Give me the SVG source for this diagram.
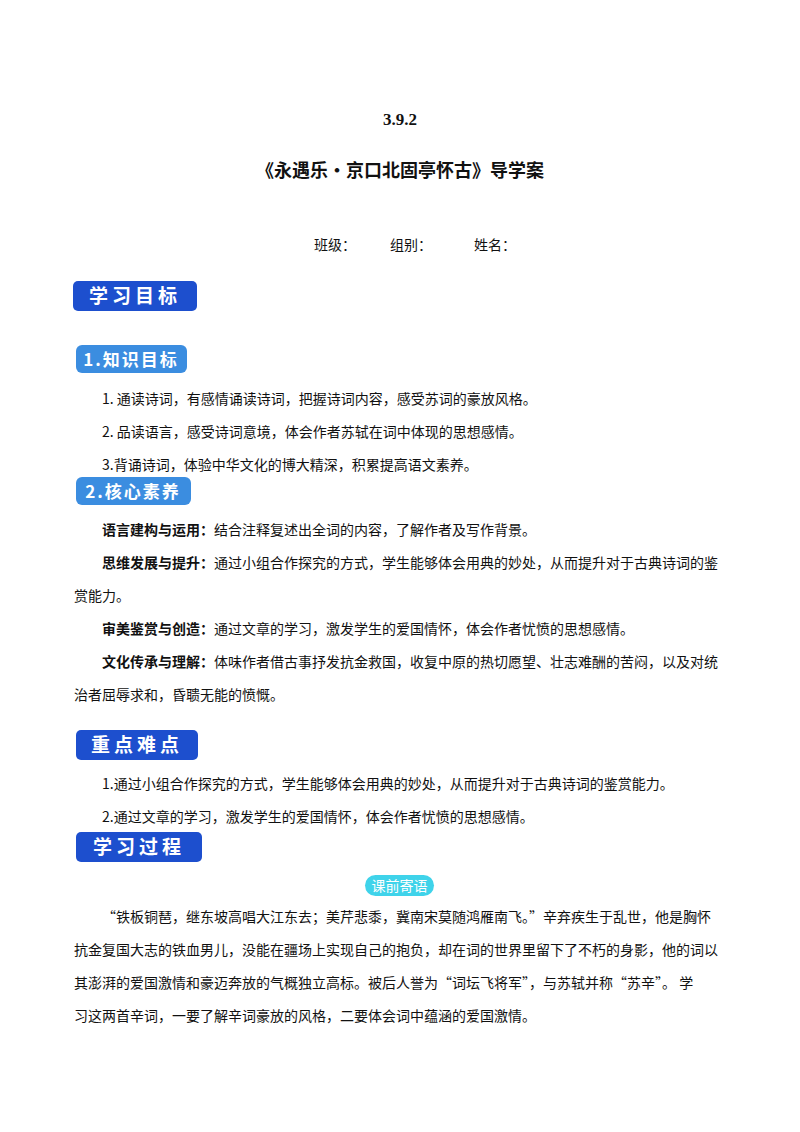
<svg xmlns="http://www.w3.org/2000/svg" width="800" height="1132" viewBox="0 0 800 1132">
<style>
text{font-family:"Noto Sans CJK SC","Liberation Serif",serif;fill:#111;font-size:14px}
.b{font-weight:bold}
.bd{fill:#fff;font-weight:bold;font-size:19px;letter-spacing:4px}
.bl{fill:#fff;font-weight:bold;font-size:17px;letter-spacing:2px}
</style>
<rect width="800" height="1132" fill="#fff"/>
<text x="400" y="125" text-anchor="middle" class="b" style="font-size:17px;font-family:'Liberation Serif',serif">3.9.2</text>
<text x="400" y="177" text-anchor="middle" class="b" style="font-size:18px">《永遇乐•京口北固亭怀古》导学案</text>
<text x="314" y="250">班级：</text><text x="390" y="250">组别：</text><text x="474" y="250">姓名：</text>
<g id="h1"><rect x="73" y="281" width="124" height="30" rx="5" fill="#1d4fce"/><text x="135" y="303" text-anchor="middle" class="bd">学习目标</text></g>
<g id="h2"><rect x="76" y="345" width="111" height="28" rx="6" fill="#3b8de0"/><text x="131" y="366" text-anchor="middle" class="bl">1.知识目标</text></g>
<text x="102" y="404">1.  通读诗词，有感情诵读诗词，把握诗词内容，感受苏词的豪放风格。</text>
<text x="102" y="437">2.  品读语言，感受诗词意境，体会作者苏轼在词中体现的思想感情。</text>
<text x="102" y="470">3.背诵诗词，体验中华文化的博大精深，积累提高语文素养。</text>
<g id="h3"><rect x="76" y="477" width="115" height="28" rx="6" fill="#3b8de0"/><text x="133" y="498" text-anchor="middle" class="bl">2.核心素养</text></g>
<text x="102" y="535"><tspan class="b">语言建构与运用：</tspan>结合注释复述出全词的内容，了解作者及写作背景。</text>
<text x="102" y="568"><tspan class="b">思维发展与提升：</tspan>通过小组合作探究的方式，学生能够体会用典的妙处，从而提升对于古典诗词的鉴</text>
<text x="74" y="601">赏能力。</text>
<text x="102" y="634"><tspan class="b">审美鉴赏与创造：</tspan>通过文章的学习，激发学生的爱国情怀，体会作者忧愤的思想感情。</text>
<text x="102" y="667"><tspan class="b">文化传承与理解：</tspan>体味作者借古事抒发抗金救国，收复中原的热切愿望、壮志难酬的苦闷，以及对统</text>
<text x="74" y="700">治者屈辱求和，昏聩无能的愤慨。</text>
<g id="h4"><rect x="76" y="730" width="122" height="30" rx="5" fill="#1d4fce"/><text x="137" y="752" text-anchor="middle" class="bd">重点难点</text></g>
<text x="102" y="789">1.通过小组合作探究的方式，学生能够体会用典的妙处，从而提升对于古典诗词的鉴赏能力。</text>
<text x="102" y="822">2.通过文章的学习，激发学生的爱国情怀，体会作者忧愤的思想感情。</text>
<g id="h5"><rect x="76" y="832" width="126" height="30" rx="5" fill="#1d4fce"/><text x="139" y="854" text-anchor="middle" class="bd">学习过程</text></g>
<g id="h6"><rect x="365" y="875" width="69" height="21" rx="10.5" fill="#3fd3ea"/><text x="399.5" y="891" text-anchor="middle" style="fill:#fff;font-size:14px">课前寄语</text></g>
<text x="102" y="922">“铁板铜琶，继东坡高唱大江东去；美芹悲黍，冀南宋莫随鸿雁南飞。”辛弃疾生于乱世，他是胸怀</text>
<text x="74" y="955">抗金复国大志的铁血男儿，没能在疆场上实现自己的抱负，却在词的世界里留下了不朽的身影，他的词以</text>
<text x="74" y="988">其澎湃的爱国激情和豪迈奔放的气概独立高标。被后人誉为“词坛飞将军”，与苏轼并称“苏辛”。  学</text>
<text x="74" y="1021">习这两首辛词，一要了解辛词豪放的风格，二要体会词中蕴涵的爱国激情。</text>
</svg>
